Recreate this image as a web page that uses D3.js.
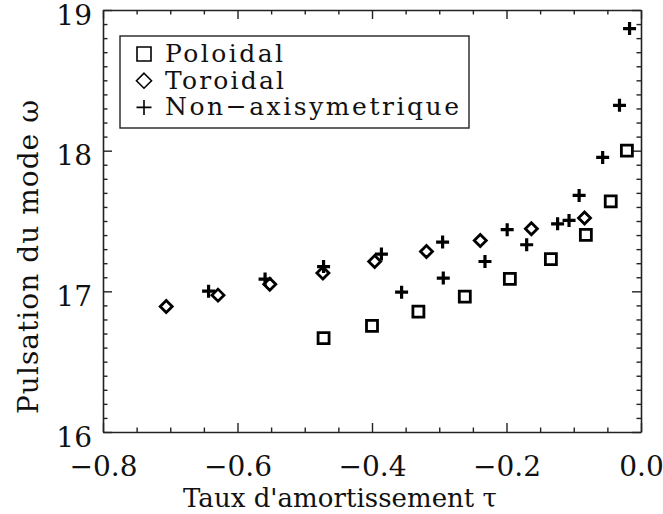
<!DOCTYPE html>
<html>
<head>
<meta charset="utf-8">
<script src="https://cdn.jsdelivr.net/npm/d3@7"></script>
<style>
  html, body { margin: 0; padding: 0; background: #fff; }
  svg { display: block; }
  text { font-family: "DejaVu Serif", serif; fill: #111; }
</style>
</head>
<body>
<svg id="chart" width="663" height="514"></svg>
<script>
// ---- data ----
const poloidalTau   = [-0.472, -0.400, -0.331, -0.262, -0.195, -0.134, -0.082, -0.045, -0.021];
const poloidalOmega = [16.667, 16.754, 16.856, 16.963, 17.089, 17.229, 17.402, 17.639, 18.000];

const toroidalTau   = [-0.706, -0.629, -0.552, -0.473, -0.396, -0.319, -0.239, -0.163, -0.084];
const toroidalOmega = [16.892, 16.973, 17.051, 17.130, 17.212, 17.283, 17.362, 17.445, 17.521];

const nonAxiTau   = [-0.643, -0.559, -0.472, -0.386, -0.356, -0.295, -0.294, -0.232, -0.199, -0.170, -0.124, -0.107, -0.092, -0.057, -0.032, -0.017];
const nonAxiOmega = [17.001, 17.087, 17.176, 17.265, 16.994, 17.350, 17.094, 17.212, 17.438, 17.331, 17.480, 17.504, 17.682, 17.952, 18.322, 18.868];

const xTickValues = [-0.8, -0.6, -0.4, -0.2, 0.0];
const xTickLabels = ["\u22120.8", "\u22120.6", "\u22120.4", "\u22120.2", "0.0"];
const yTickValues = [16, 17, 18, 19];
const yTickLabels = ["16", "17", "18", "19"];

const legendLabels = ["Poloidal", "Toroidal", "Non\u2212axisymetrique"];
const xTitle = "Taux d'amortissement \u03C4";
const yTitle = "Pulsation du mode \u03C9";

// ---- layout ----
const svg = d3.select("#chart");
const L = 103, R = 641, T = 10, B = 432;
const x = d3.scaleLinear().domain([-0.8, 0.0]).range([L, R]);
const y = d3.scaleLinear().domain([16, 19]).range([B, T]);

const xMinor = d3.range(-0.8, 0.0001, 0.05).map(v => +v.toFixed(2)).filter(v => !xTickValues.some(t => Math.abs(t - v) < 1e-6));
const yMinor = d3.range(16, 19.0001, 0.1).map(v => +v.toFixed(1)).filter(v => !yTickValues.some(t => Math.abs(t - v) < 1e-6));

const axisColor = "#222";
function styleAxis(g) {
  g.selectAll("path.domain").attr("stroke", axisColor).attr("stroke-width", 1.6);
  g.selectAll(".tick line").attr("stroke", axisColor).attr("stroke-width", 1.4);
}

// bottom axis (labels)
const gB = svg.append("g").attr("transform", `translate(0,${B})`)
  .call(d3.axisBottom(x).tickValues(xTickValues).tickSize(-9).tickSizeOuter(0)
    .tickFormat((d, i) => xTickLabels[i]));
gB.call(styleAxis);
gB.selectAll(".tick text").attr("y", 24).attr("dy", "0.71em")
  .attr("font-size", 28).attr("font-family", "DejaVu Serif").attr("fill", "#111");
svg.append("g").attr("transform", `translate(0,${B})`)
  .call(d3.axisBottom(x).tickValues(xMinor).tickSize(-4.5).tickSizeOuter(0).tickFormat(""))
  .call(styleAxis).select("path.domain").remove();

// top axis
const gT = svg.append("g").attr("transform", `translate(0,${T})`)
  .call(d3.axisTop(x).tickValues(xTickValues).tickSize(-9).tickSizeOuter(0).tickFormat(""));
gT.call(styleAxis);
svg.append("g").attr("transform", `translate(0,${T})`)
  .call(d3.axisTop(x).tickValues(xMinor).tickSize(-4.5).tickSizeOuter(0).tickFormat(""))
  .call(styleAxis).select("path.domain").remove();

// left axis (labels)
const gL = svg.append("g").attr("transform", `translate(${L},0)`)
  .call(d3.axisLeft(y).tickValues(yTickValues).tickSize(-9).tickSizeOuter(0)
    .tickFormat((d, i) => yTickLabels[i]));
gL.call(styleAxis);
gL.selectAll(".tick text").attr("x", -11).attr("dy", "0.5em")
  .attr("font-size", 28).attr("font-family", "DejaVu Serif").attr("fill", "#111");
svg.append("g").attr("transform", `translate(${L},0)`)
  .call(d3.axisLeft(y).tickValues(yMinor).tickSize(-4.5).tickSizeOuter(0).tickFormat(""))
  .call(styleAxis).select("path.domain").remove();

// right axis
const gR = svg.append("g").attr("transform", `translate(${R},0)`)
  .call(d3.axisRight(y).tickValues(yTickValues).tickSize(-9).tickSizeOuter(0).tickFormat(""));
gR.call(styleAxis);
svg.append("g").attr("transform", `translate(${R},0)`)
  .call(d3.axisRight(y).tickValues(yMinor).tickSize(-4.5).tickSizeOuter(0).tickFormat(""))
  .call(styleAxis).select("path.domain").remove();

// titles
svg.append("text").attr("x", 340).attr("y", 507)
  .attr("text-anchor", "middle").attr("font-size", 26)
  .attr("textLength", 314).attr("lengthAdjust", "spacing").text(xTitle);
svg.append("text")
  .attr("transform", `translate(38,257) rotate(-90)`)
  .attr("text-anchor", "middle").attr("font-size", 28)
  .attr("textLength", 314).attr("lengthAdjust", "spacing").text(yTitle);

// ---- marker shapes ----
function squarePath(s) { const h = s / 2; return `M${-h},${-h}H${h}V${h}H${-h}Z`; }
function diamondPath(s) { const h = s / 2; return `M0,${-h}L${h},0L0,${h}L${-h},0Z`; }
function crossPath(s) { const h = s / 2; return `M${-h},0H${h}M0,${-h}V${h}`; }

const markColor = "#000";
const plot = svg.append("g");

plot.selectAll("path.pol").data(poloidalTau.map((t, i) => [t, poloidalOmega[i]]))
  .enter().append("path").attr("class", "pol")
  .attr("transform", d => `translate(${x(d[0])},${y(d[1])})`)
  .attr("d", squarePath(11)).attr("fill", "none").attr("stroke", markColor).attr("stroke-width", 2.8);

plot.selectAll("path.tor").data(toroidalTau.map((t, i) => [t, toroidalOmega[i]]))
  .enter().append("path").attr("class", "tor")
  .attr("transform", d => `translate(${x(d[0])},${y(d[1])})`)
  .attr("d", diamondPath(12)).attr("fill", "none").attr("stroke", markColor).attr("stroke-width", 2.8);

plot.selectAll("path.nax").data(nonAxiTau.map((t, i) => [t, nonAxiOmega[i]]))
  .enter().append("path").attr("class", "nax")
  .attr("transform", d => `translate(${x(d[0])},${y(d[1])})`)
  .attr("d", crossPath(13)).attr("fill", "none").attr("stroke", markColor).attr("stroke-width", 3.2);

// ---- legend ----
const lg = svg.append("g");
lg.append("rect").attr("x", 120).attr("y", 36).attr("width", 349).attr("height", 92)
  .attr("fill", "#fff").attr("stroke", axisColor).attr("stroke-width", 1.4);
const legendShapes = [squarePath(14), diamondPath(15), crossPath(15)];
const legendWidths = [118, 119, 294];
legendLabels.forEach((lab, i) => {
  const cy = 54 + i * 26.7;
  lg.append("path").attr("transform", `translate(144,${cy})`).attr("d", legendShapes[i])
    .attr("fill", "none").attr("stroke", markColor).attr("stroke-width", 1.6);
  lg.append("text").attr("x", 165).attr("y", cy + 8).attr("font-size", 25)
    .attr("textLength", legendWidths[i]).attr("lengthAdjust", "spacing").text(lab);
});
</script>
</body>
</html>
